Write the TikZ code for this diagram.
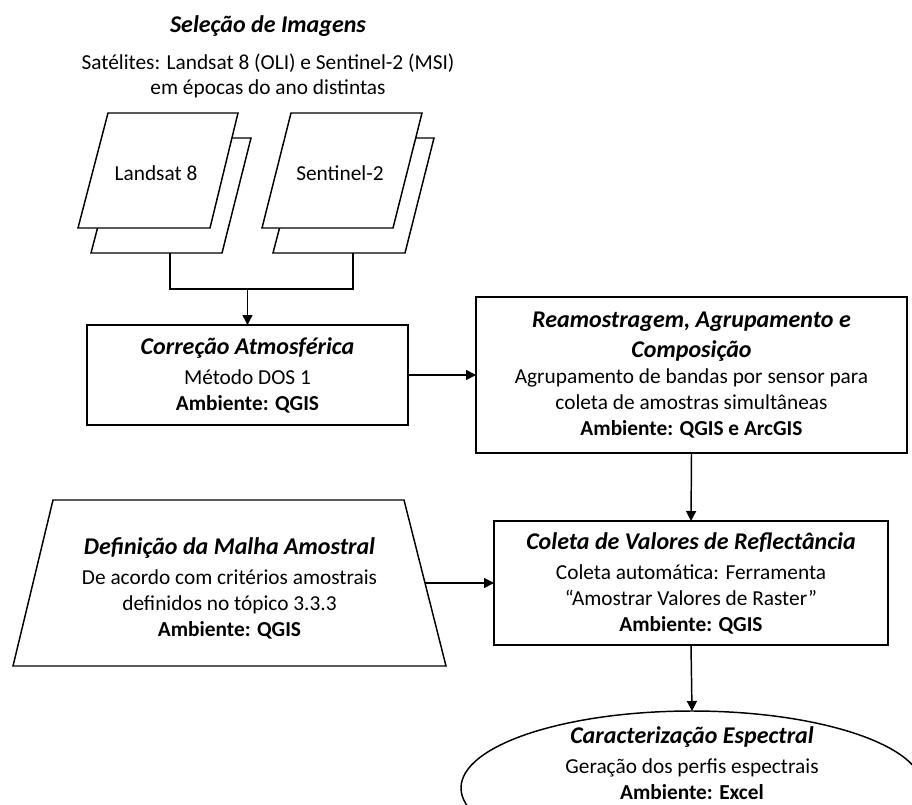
\documentclass[tikz,border=0pt]{standalone}
\usepackage{fontspec}
\setmainfont{Carlito}
\usetikzlibrary{arrows.meta, positioning, shapes.geometric}

\newcommand{\etapa}[1]{{\fontsize{18}{19.5}\selectfont\bfseries\itshape #1}}

\begin{document}
\begin{tikzpicture}[x=0.75pt, y=-0.75pt, line width=1.1pt,
    every node/.style={font=\fontsize{16}{19.5}\selectfont, align=center},
    proc/.style={draw, rectangle, inner sep=0pt, outer sep=0pt},
    folha/.style={draw, fill=white, line join=miter},
    seta/.style={-{Triangle[length=7.5pt, width=7.5pt]}}]
    \useasboundingbox (0,0) rectangle (912,805);
    \clip (0,0) rectangle (912,805);

    % Selecao de imagens
    \node (titulo) at (268,26) {\etapa{Seleção de Imagens}};
    \node[below=5pt of titulo, font=\fontsize{16}{19}\selectfont] (satelites) {Satélites: Landsat 8 (OLI) e Sentinel-2 (MSI)\\em épocas do ano distintas};

    % Folhas das imagens
    \draw[folha] (121,138) -- (251,138) -- (222,253) -- (91,253) -- cycle;
    \draw[folha] (108,113) -- (238,113) -- (210,228) -- (78,228) -- cycle;
    \draw[folha] (303,138) -- (434,138) -- (405,253) -- (273,253) -- cycle;
    \draw[folha] (291,113) -- (422,113) -- (393,228) -- (262,228) -- cycle;
    \node (ls) at (156,173) {Landsat 8};
    \node (sn) at (340,173) {Sentinel-2};
    \coordinate (lsBase) at (170,253);
    \coordinate (snBase) at (353,253);

    % Processamento
    \node[proc, minimum width=240.75pt, minimum height=75pt] (corr) at (247.5,375) {\etapa{Correção Atmosférica}\\[3pt]Método DOS 1\\\textbf{Ambiente: QGIS}};
    \node[proc, minimum width=323.25pt, minimum height=117pt] (ream) at (691.5,375) {\etapa{Reamostragem, Agrupamento e}\\[3pt]\etapa{Composição}\\Agrupamento de bandas por sensor para\\coleta de amostras simultâneas\\\textbf{Ambiente: QGIS e ArcGIS}};
    \node[proc, minimum width=295.5pt, minimum height=93pt] (coleta) at (691,583) {\etapa{Coleta de Valores de Reflectância}\\[3pt]Coleta automática: Ferramenta\\“Amostrar Valores de Raster”\\\textbf{Ambiente: QGIS}};

    % Malha amostral
    \draw (53,500) -- (404,500) -- (446,666) -- (13,666) -- cycle;
    \node (malha) at (229.5,588) {\etapa{Definição da Malha Amostral}\\[3pt]De acordo com critérios amostrais\\definidos no tópico 3.3.3\\\textbf{Ambiente: QGIS}};
    \coordinate (malhaDir) at (425,583);

    % Resultado
    \node[draw, ellipse, minimum width=346.5pt, minimum height=115.5pt, inner sep=2pt, outer sep=0pt] (carac) at (692,788) {};
    \node (caracTxt) at (692,763) {\etapa{Caracterização Espectral}\\[3pt]Geração dos perfis espectrais\\\textbf{Ambiente: Excel}};

    % Conexoes
    \coordinate (juncao) at (247.5,289);
    \draw (lsBase) |- (juncao);
    \draw (snBase) |- (juncao);
    \draw[seta] (juncao) -- (corr.north);
    \draw[seta] (corr.east) -- (ream.west);
    \draw[seta] (ream.south) -- (coleta.north);
    \draw[seta] (malhaDir) -- (coleta.west);
    \draw[seta] (coleta.south) -- (carac.north);
\end{tikzpicture}
\end{document}
